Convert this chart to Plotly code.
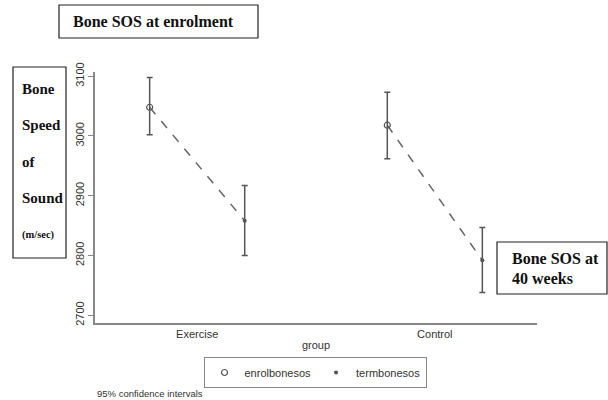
import plotly.graph_objects as go

# ---- data ----
groups = ["Exercise", "Control"]
enrol_mean = [3048, 3018]
enrol_lower = [3002, 2962]
enrol_upper = [3098, 3073]
term_mean = [2858, 2792]
term_lower = [2800, 2738]
term_upper = [2917, 2847]
series_names = ["enrolbonesos", "termbonesos"]
y_ticks = [2700, 2800, 2900, 3000, 3100]

W, H = 608, 400
L, R, T, B = 95, 71, 72, 77
PW, PH = W - L - R, H - T - B


def px(x):
    return (x - L) / PW


def py(y):
    return (H - B - y) / PH


OFF = 0.2
gx = list(range(len(groups)))
ex = [g - OFF for g in gx]
tx = [g + OFF for g in gx]
grey = "#555555"

fig = go.Figure()

# dashed connecting lines
lx, ly = [], []
for i in gx:
    lx += [ex[i], tx[i], None]
    ly += [enrol_mean[i], term_mean[i], None]
fig.add_trace(go.Scatter(x=lx, y=ly, mode="lines", showlegend=False,
                         line=dict(color="#666666", width=1.5, dash="dash"),
                         hoverinfo="skip"))

fig.add_trace(go.Scatter(
    x=ex, y=enrol_mean, mode="markers", name=series_names[0],
    marker=dict(symbol="circle-open", size=6, color=grey, line=dict(width=1.2, color=grey)),
    error_y=dict(type="data", symmetric=False,
                 array=[u - m for u, m in zip(enrol_upper, enrol_mean)],
                 arrayminus=[m - l for m, l in zip(enrol_mean, enrol_lower)],
                 color=grey, thickness=1.5, width=3)))
fig.add_trace(go.Scatter(
    x=tx, y=term_mean, mode="markers", name=series_names[1],
    marker=dict(symbol="circle", size=4, color=grey),
    error_y=dict(type="data", symmetric=False,
                 array=[u - m for u, m in zip(term_upper, term_mean)],
                 arrayminus=[m - l for m, l in zip(term_mean, term_lower)],
                 color=grey, thickness=1.5, width=3)))

sans = "Liberation Sans, Arial, sans-serif"
serif = "Liberation Serif, Times New Roman, serif"

fig.update_layout(
    width=W, height=H,
    margin=dict(l=L, r=R, t=T, b=B),
    paper_bgcolor="white", plot_bgcolor="white",
    font=dict(family=sans, size=11, color="#333333"),
    xaxis=dict(range=[-0.43, 1.43], tickvals=gx, ticktext=groups,
               showline=True, linecolor="#888888", linewidth=1.5,
               showgrid=False, zeroline=False, ticks="",
               title=dict(text="group", standoff=2, font=dict(size=11)),
               tickfont=dict(size=11)),
    yaxis=dict(range=[2687, 3107], tickvals=y_ticks,
               showline=True, linecolor="#888888", linewidth=1.5,
               showgrid=False, zeroline=False, ticks="outside", ticklen=5,
               tickcolor="#888888", tickangle=-90, tickfont=dict(size=11)),
    legend=dict(orientation="h", x=px(315), xanchor="center", y=py(357), yanchor="top",
                bordercolor="#888888", borderwidth=1, font=dict(size=11, color="#333333"),
                itemwidth=30, tracegroupgap=0),
    showlegend=True,
)

shapes = []
annots = []
# top box
shapes.append(dict(type="rect", xref="paper", yref="paper", x0=px(59), x1=px(258),
                   y0=py(38), y1=py(5), line=dict(color="#222222", width=1.2)))
annots.append(dict(xref="paper", yref="paper", x=px(71), y=py(21.5), xanchor="left",
                   yanchor="middle", showarrow=False, text="<b>Bone SOS at enrolment</b>",
                   font=dict(family=serif, size=16, color="#111111")))
# left box
shapes.append(dict(type="rect", xref="paper", yref="paper", x0=px(13), x1=px(66),
                   y0=py(258), y1=py(67), line=dict(color="#222222", width=1.2)))
for txt, yy, sz in [("Bone", 89, 15), ("Speed", 125, 15), ("of", 162, 15),
                    ("Sound", 198, 15), ("(m/sec)", 235, 10.5)]:
    annots.append(dict(xref="paper", yref="paper", x=px(20), y=py(yy), xanchor="left",
                       yanchor="middle", showarrow=False, text="<b>%s</b>" % txt,
                       font=dict(family=serif, size=sz, color="#111111")))
# right box
shapes.append(dict(type="rect", xref="paper", yref="paper", x0=px(497), x1=px(607),
                   y0=py(294), y1=py(242), line=dict(color="#222222", width=1.2)))
for txt, yy in [("Bone SOS at", 258), ("40 weeks", 278)]:
    annots.append(dict(xref="paper", yref="paper", x=px(510), y=py(yy), xanchor="left",
                       yanchor="middle", showarrow=False, text="<b>%s</b>" % txt,
                       font=dict(family=serif, size=16, color="#111111")))
# footnote
annots.append(dict(xref="paper", yref="paper", x=px(95), y=py(393), xanchor="left",
                   yanchor="middle", showarrow=False, text="95% confidence intervals",
                   font=dict(family=sans, size=9.5, color="#333333")))

fig.update_layout(shapes=shapes, annotations=annots)
fig.write_html("out.html", config={"displayModeBar": False},
               post_script="document.body.style.margin='0';document.body.style.padding='0';")
